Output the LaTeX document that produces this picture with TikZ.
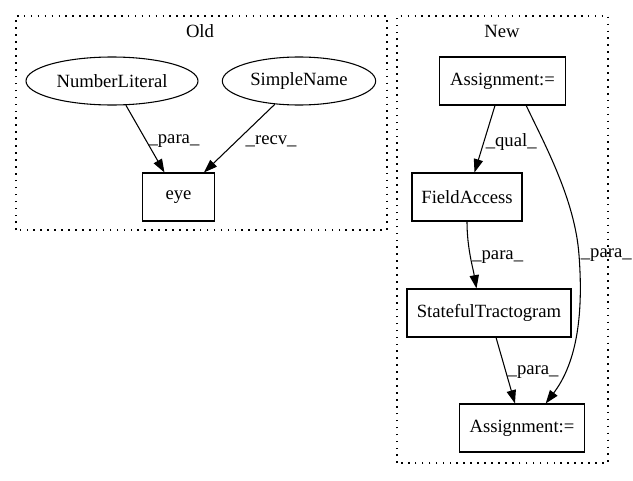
\documentclass[tikz,border=0pt]{standalone}
\usepackage{fontspec}
\setmainfont{Liberation Serif}
\usetikzlibrary{shapes.geometric,arrows.meta}

\begin{document}
\begin{tikzpicture}[x=0.75pt,y=0.75pt,line width=0.8pt,
  font=\fontsize{14}{16}\selectfont,
  box/.style={draw,rectangle,minimum height=36pt,inner sep=0pt},
  oval/.style={draw,ellipse,minimum height=36pt,inner sep=0pt},
  cluster/.style={draw,dash pattern=on 1.2pt off 4pt},
  lbl/.style={inner sep=1pt},
  link/.style={-{Triangle[length=10pt,width=7pt]}}]
  \useasboundingbox (0,0) rectangle (633,480);

  % Old
  \draw[cluster] (16,250) rectangle (387,464);
  \node (oldtitle) at (200,449) {Old};
  \node (numlit)  at (112,399) [oval,minimum width=129pt] {NumberLiteral};
  \node (simname) at (299,399) [oval,minimum width=115pt] {SimpleName};
  \node (eye)     at (178.5,283) [box,minimum width=54pt] {eye};

  \draw[link] (numlit) -- node[lbl,pos=.54,anchor=west] {\_para\_} (eye);
  \draw[link] (simname) -- node[lbl,pos=.55,anchor=west,xshift=6pt] {\_recv\_} (eye);

  % New
  \draw[cluster] (397,17) rectangle (608,464);
  \node (newtitle) at (502,449) {New};
  \node (assigntop) at (502.5,399) [box,minimum width=94pt] {Assignment:=};
  \node (fieldacc)  at (467,283)   [box,minimum width=82.5pt] {FieldAccess};
  \node (stateful)  at (489,167)   [box,minimum width=123pt] {StatefulTractogram};
  \node (assignbot) at (522,52)    [box,minimum width=94pt] {Assignment:=};

  \draw[link] (assigntop) -- node[lbl,pos=.54,anchor=west] {\_qual\_} (fieldacc);
  \draw[link] (fieldacc.south) .. controls (467,232) and (473,212)
    .. node[lbl,pos=.5,anchor=west] {\_para\_} (stateful.117);
  \draw[link] (stateful) -- node[lbl,pos=.52,anchor=west] {\_para\_} (assignbot);
  \draw[link] (assigntop.-46) .. controls (545,335) and (575,280)
    .. (579,225) node[lbl,anchor=west] {\_para\_}
    .. controls (584,160) and (575,115) .. (assignbot.46);
\end{tikzpicture}
\end{document}
